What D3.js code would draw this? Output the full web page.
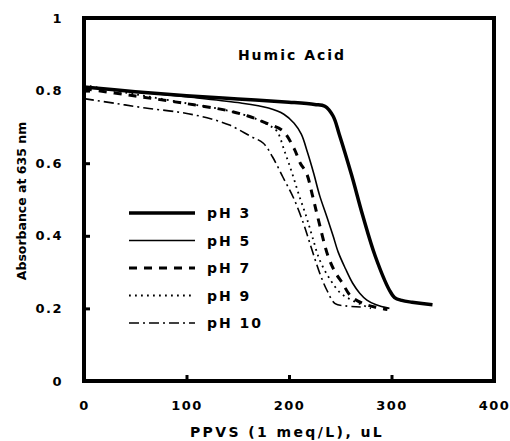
<!DOCTYPE html>
<html>
<head>
<meta charset="utf-8">
<script src="https://cdn.jsdelivr.net/npm/d3@7"></script>
<style>
  body { margin: 0; background: #fff; }
  text { font-family: "DejaVu Sans", sans-serif; font-weight: bold; fill: #000; }
</style>
</head>
<body>
<svg width="510" height="441"></svg>
<script>
var xTicks = [0, 100, 200, 300, 400];
var yTicks = [0, 0.2, 0.4, 0.6, 0.8, 1];
var seriesNames = ["pH 3", "pH 5", "pH 7", "pH 9", "pH 10"];

var ph3X = [0, 50, 100, 150, 200, 225, 235, 243, 249, 261, 272, 284, 298, 303, 310, 320, 340];
var ph3Y = [0.81, 0.797, 0.786, 0.777, 0.768, 0.762, 0.757, 0.73, 0.68, 0.568, 0.455, 0.345, 0.25, 0.23, 0.222, 0.217, 0.21];

var ph5X = [0, 50, 100, 150, 180, 195, 205, 212, 218, 224, 230, 237, 243, 248, 255, 262, 269, 276, 285, 298];
var ph5Y = [0.81, 0.797, 0.783, 0.767, 0.752, 0.735, 0.71, 0.68, 0.63, 0.573, 0.51, 0.452, 0.4, 0.355, 0.31, 0.27, 0.242, 0.223, 0.21, 0.2];

var ph7X = [0, 50, 100, 140, 160, 180, 194, 205, 211, 217, 223, 228, 238, 245, 252, 260, 271, 285, 296];
var ph7Y = [0.805, 0.785, 0.764, 0.745, 0.73, 0.708, 0.689, 0.64, 0.6, 0.573, 0.51, 0.452, 0.345, 0.3, 0.27, 0.235, 0.215, 0.203, 0.197];

var ph9X = [0, 50, 100, 140, 165, 180, 188, 196, 203, 210, 217, 223, 230, 240, 250, 261, 271, 280];
var ph9Y = [0.815, 0.79, 0.765, 0.745, 0.725, 0.705, 0.689, 0.63, 0.573, 0.51, 0.452, 0.395, 0.333, 0.28, 0.243, 0.223, 0.21, 0.2];

var ph10X = [0, 30, 60, 94, 120, 142, 162, 175, 184, 194, 204, 214, 222, 230, 237, 245, 255, 270];
var ph10Y = [0.778, 0.765, 0.752, 0.74, 0.725, 0.705, 0.675, 0.655, 0.617, 0.562, 0.507, 0.435, 0.365, 0.297, 0.25, 0.213, 0.207, 0.204];

var svg = d3.select("svg");

var x = d3.scaleLinear().domain([0, 400]).range([84, 494]);
var y = d3.scaleLinear().domain([0, 1]).range([381, 18]);

// line styles per series
var styles = [
  { width: 3.5, dash: null },
  { width: 1.6, dash: null },
  { width: 3, dash: "8,7" },
  { width: 1.8, dash: "1.8,4.2" },
  { width: 1.6, dash: "10,4,2,4" }
];

var series = [
  { name: seriesNames[0], xs: ph3X, ys: ph3Y },
  { name: seriesNames[1], xs: ph5X, ys: ph5Y },
  { name: seriesNames[2], xs: ph7X, ys: ph7Y },
  { name: seriesNames[3], xs: ph9X, ys: ph9Y },
  { name: seriesNames[4], xs: ph10X, ys: ph10Y }
];

var line = d3
  .line()
  .x(function (d) {
    return x(d[0]);
  })
  .y(function (d) {
    return y(d[1]);
  })
  .curve(d3.curveCatmullRom.alpha(0.5));

svg
  .append("g")
  .selectAll("path")
  .data(series)
  .enter()
  .append("path")
  .attr("fill", "none")
  .attr("stroke", "#000")
  .attr("stroke-width", function (d, i) {
    return styles[i].width;
  })
  .attr("stroke-dasharray", function (d, i) {
    return styles[i].dash;
  })
  .attr("d", function (d) {
    return line(d3.zip(d.xs, d.ys));
  });

// axes with inward ticks
var xAxis = svg
  .append("g")
  .attr("transform", "translate(0," + y(0) + ")")
  .call(d3.axisBottom(x).tickValues(xTicks).tickSize(-6).tickPadding(20).tickFormat(d3.format("d")));

var yAxis = svg
  .append("g")
  .attr("transform", "translate(" + x(0) + ",0)")
  .call(d3.axisLeft(y).tickValues(yTicks).tickSize(-6).tickPadding(21).tickFormat(function (d) {
    return d === 0 || d === 1 ? d : d3.format(".1f")(d);
  }));

[xAxis, yAxis].forEach(function (g) {
  g.select(".domain").remove();
  g.selectAll(".tick line").attr("stroke", "#000").attr("stroke-width", 3);
  g.selectAll(".tick text")
    .style("font-size", "13px")
    .style("letter-spacing", "1.5px")
    .attr("fill", "#000");
});

// frame
svg
  .append("rect")
  .attr("x", x(0))
  .attr("y", y(1))
  .attr("width", x(400) - x(0))
  .attr("height", y(0) - y(1))
  .attr("fill", "none")
  .attr("stroke", "#000")
  .attr("stroke-width", 4);

svg
  .append("text")
  .attr("x", 292)
  .attr("y", 60)
  .attr("text-anchor", "middle")
  .style("font-size", "14px")
  .style("letter-spacing", "2px")
  .text("Humic Acid");

svg
  .append("text")
  .attr("x", 287)
  .attr("y", 437)
  .attr("text-anchor", "middle")
  .style("font-size", "14px")
  .style("letter-spacing", "2.4px")
  .text("PPVS (1 meq/L), uL");

svg
  .append("text")
  .attr("transform", "translate(26,201) rotate(-90)")
  .attr("text-anchor", "middle")
  .style("font-size", "12.5px")
  .text("Absorbance at 635 nm");

// legend
var legend = svg
  .append("g")
  .selectAll("g")
  .data(series)
  .enter()
  .append("g")
  .attr("transform", function (d, i) {
    return "translate(0," + (213 + i * 27.5) + ")";
  });

legend
  .append("line")
  .attr("x1", 129)
  .attr("x2", 195)
  .attr("stroke", "#000")
  .attr("stroke-width", function (d, i) {
    return styles[i].width;
  })
  .attr("stroke-dasharray", function (d, i) {
    return styles[i].dash;
  });

legend
  .append("text")
  .attr("x", 207)
  .attr("y", 5)
  .style("font-size", "14px")
  .style("letter-spacing", "2px")
  .text(function (d) {
    return d.name;
  });
</script>
</body>
</html>
